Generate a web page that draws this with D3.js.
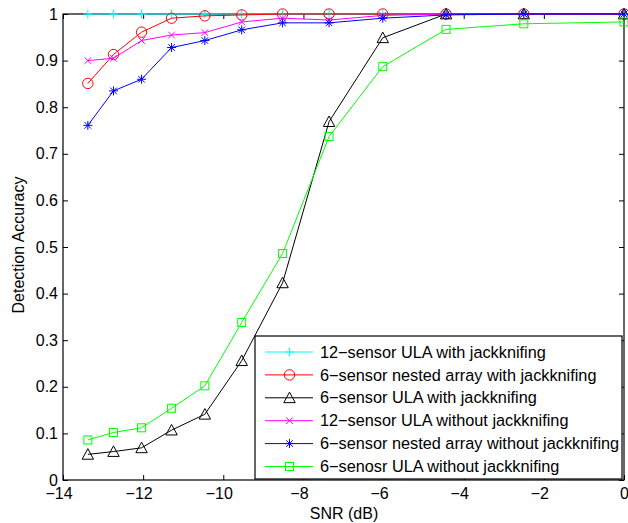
<!DOCTYPE html>
<html>
<head>
<meta charset="utf-8">
<script src="https://cdn.jsdelivr.net/npm/d3@7/dist/d3.min.js"></script>
<style>
  html, body { margin: 0; padding: 0; background: #fff; }
  svg text { font-family: "Liberation Sans", Arial, Helvetica, sans-serif; }
</style>
</head>
<body>
<svg id="chart" width="628" height="523"></svg>
<script>
// SNR points (dB)
const snr = [-13.38, -12.74, -12.04, -11.29, -10.46, -9.54, -8.52, -7.36, -6.02, -4.44, -2.50, 0];

// Detection accuracy per configuration
const ula12Jack   = [1, 1, 1, 1, 1, 1, 1, 1, 1, 1, 1, 1];
const nested6Jack = [0.851, 0.913, 0.961, 0.991, 0.996, 0.998, 1, 1, 1, 1, 1, 1];
const ula6Jack    = [0.055, 0.061, 0.069, 0.107, 0.141, 0.256, 0.423, 0.769, 0.949, 1, 1, 1];
const ula12NoJack = [0.900, 0.905, 0.943, 0.955, 0.960, 0.983, 0.991, 0.987, 0.997, 1, 1, 1];
const nested6NoJack = [0.761, 0.835, 0.860, 0.928, 0.943, 0.966, 0.981, 0.981, 0.991, 0.998, 1, 1];
const ula6NoJack  = [0.086, 0.102, 0.112, 0.154, 0.202, 0.338, 0.486, 0.737, 0.887, 0.967, 0.979, 0.983];

const seriesNames = [
  "12\u2212sensor ULA with jackknifing",
  "6\u2212sensor nested array with jackknifing",
  "6\u2212sensor ULA with jackknifing",
  "12\u2212sensor ULA without jackknifing",
  "6\u2212sensor nested array without jackknifing",
  "6\u2212senosr ULA without jackknifing"
];
const seriesColors = ["#00ffff", "#ff0000", "#000000", "#ff00ff", "#0000ff", "#00ff00"];
const seriesMarkers = ["plus", "circle", "triangle", "cross", "star", "square"];
const seriesValues = [ula12Jack, nested6Jack, ula6Jack, ula12NoJack, nested6NoJack, ula6NoJack];

const xTicks = [-14, -12, -10, -8, -6, -4, -2, 0];
const yTicks = [0, 0.1, 0.2, 0.3, 0.4, 0.5, 0.6, 0.7, 0.8, 0.9, 1];

const svg = d3.select("#chart");
const plotLeft = 63, plotRight = 624, plotTop = 14, plotBottom = 480;
const fontSize = "16px";

const x = d3.scaleLinear().domain([-14, 0]).range([plotLeft, plotRight]);
const y = d3.scaleLinear().domain([0, 1]).range([plotBottom, plotTop]);

const fmtX = d => (d < 0 ? "\u2212" + Math.abs(d) : String(d));
const fmtY = d => String(d);

// Axes with inward ticks on all four sides
const axisG = svg.append("g").attr("class", "axes");
function styleAxis(g) {
  g.select(".domain").remove();
  g.selectAll(".tick line").attr("stroke", "#000").attr("stroke-width", 1);
  g.selectAll(".tick text").attr("fill", "#000").style("font-size", fontSize);
}
const xAxisG = axisG.append("g").attr("transform", `translate(0,${plotBottom})`)
  .call(d3.axisBottom(x).tickValues(xTicks).tickSize(-5).tickPadding(8).tickFormat(fmtX))
  .call(styleAxis);
// negative labels sit slightly left of their tick
xAxisG.selectAll(".tick text").attr("dx", d => (d < 0 ? -4.5 : 0));
axisG.append("g").attr("transform", `translate(0,${plotTop})`)
  .call(d3.axisTop(x).tickValues(xTicks).tickSize(-5).tickFormat(""))
  .call(styleAxis);
axisG.append("g").attr("transform", `translate(${plotLeft},0)`)
  .call(d3.axisLeft(y).tickValues(yTicks).tickSize(-5).tickPadding(5).tickFormat(fmtY))
  .call(styleAxis);
axisG.append("g").attr("transform", `translate(${plotRight},0)`)
  .call(d3.axisRight(y).tickValues(yTicks).tickSize(-5).tickFormat(""))
  .call(styleAxis);
axisG.append("rect")
  .attr("x", plotLeft).attr("y", plotTop).attr("width", plotRight - plotLeft).attr("height", plotBottom - plotTop)
  .attr("fill", "none").attr("stroke", "#000").attr("stroke-width", 1.2);

// Axis titles
svg.append("text").attr("x", 344).attr("y", 519)
  .attr("text-anchor", "middle").style("font-size", fontSize).text("SNR (dB)");
svg.append("text").attr("transform", "translate(24,245) rotate(-90)")
  .attr("text-anchor", "middle").style("font-size", fontSize).text("Detection Accuracy");

// Marker drawing
function drawMarker(g, type, cx, cy, color) {
  const s = 4.5;
  if (type === "plus") {
    g.append("path").attr("d", `M${cx - s},${cy}H${cx + s}M${cx},${cy - s}V${cy + s}`)
      .attr("stroke", color).attr("fill", "none");
  } else if (type === "circle") {
    g.append("circle").attr("cx", cx).attr("cy", cy).attr("r", 5.2)
      .attr("stroke", color).attr("fill", "none");
  } else if (type === "triangle") {
    const h = 5.7;
    g.append("path").attr("d", `M${cx},${cy - h}L${cx + h},${cy + h * 0.85}L${cx - h},${cy + h * 0.85}Z`)
      .attr("stroke", color).attr("fill", "none");
  } else if (type === "cross") {
    const c = 3.3;
    g.append("path").attr("d", `M${cx - c},${cy - c}L${cx + c},${cy + c}M${cx - c},${cy + c}L${cx + c},${cy - c}`)
      .attr("stroke", color).attr("fill", "none");
  } else if (type === "star") {
    const c = 3.3;
    g.append("path").attr("d",
      `M${cx - s},${cy}H${cx + s}M${cx},${cy - s}V${cy + s}M${cx - c},${cy - c}L${cx + c},${cy + c}M${cx - c},${cy + c}L${cx + c},${cy - c}`)
      .attr("stroke", color).attr("fill", "none");
  } else if (type === "square") {
    g.append("rect").attr("x", cx - 4).attr("y", cy - 4).attr("width", 8).attr("height", 8)
      .attr("stroke", color).attr("fill", "none");
  }
}

// Series lines and markers
const line = d3.line().x(d => x(d[0])).y(d => y(d[1]));
const plotG = svg.append("g").attr("class", "series");
seriesValues.forEach((vals, i) => {
  const pts = snr.map((s, j) => [s, vals[j]]);
  const g = plotG.append("g");
  g.append("path").datum(pts).attr("d", line)
    .attr("fill", "none").attr("stroke", seriesColors[i]).attr("stroke-width", 1);
  pts.forEach(p => drawMarker(g, seriesMarkers[i], x(p[0]), y(p[1]), seriesColors[i]));
});

// Legend
const lg = svg.append("g").attr("class", "legend");
const lgLeft = 255, lgTop = 336, lgRight = 622, lgBottom = 479;
lg.append("rect").attr("x", lgLeft).attr("y", lgTop)
  .attr("width", lgRight - lgLeft).attr("height", lgBottom - lgTop)
  .attr("fill", "#fff").attr("stroke", "#000").attr("stroke-width", 1.2);
seriesNames.forEach((name, i) => {
  const ry = 352 + i * 22.9;
  lg.append("line").attr("x1", 265).attr("x2", 313).attr("y1", ry).attr("y2", ry)
    .attr("stroke", seriesColors[i]).attr("stroke-width", 1);
  drawMarker(lg, seriesMarkers[i], 289.5, ry, seriesColors[i]);
  lg.append("text").attr("x", 320).attr("y", ry + 5.6).style("font-size", "16.3px").text(name);
});
</script>
</body>
</html>
